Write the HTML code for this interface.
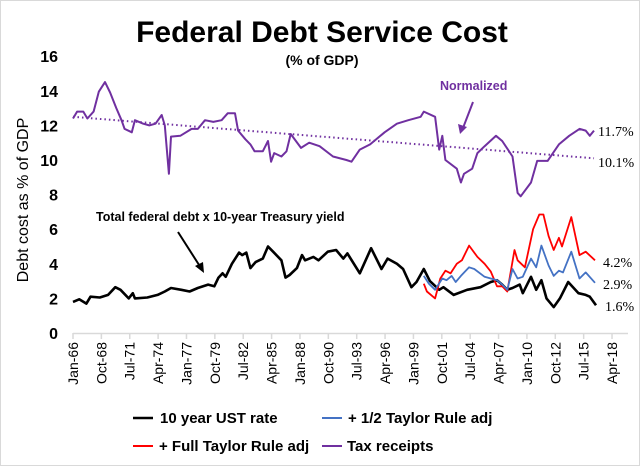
<!DOCTYPE html>
<html><head><meta charset="utf-8"><style>
body{margin:0;background:#fff}
svg{display:block;font-family:"Liberation Sans",sans-serif}
</style></head><body>
<svg id="c" width="640" height="466" viewBox="0 0 640 466">
<rect x="0.5" y="0.5" width="639" height="465" fill="#fff" stroke="#d9d9d9"/>
<text x="322" y="42" text-anchor="middle" font-size="30" font-weight="bold">Federal Debt Service Cost</text>
<text x="322" y="65" text-anchor="middle" font-size="14" font-weight="bold">(% of GDP)</text>
<text transform="translate(28,200) rotate(-90)" text-anchor="middle" font-size="16">Debt cost as % of GDP</text>
<g id="axes"></g>
<g id="series"></g>
<text x="96" y="221" font-size="12.5" font-weight="bold">Total federal debt x 10-year Treasury yield</text>
<line x1="178" y1="232" x2="201" y2="268" stroke="#000" stroke-width="2"/>
<polygon points="204,273 195,266 203,262" fill="#000"/>
<text x="440" y="90" font-size="12.5" font-weight="bold" fill="#7030a0">Normalized</text>
<line x1="473" y1="102" x2="463" y2="128" stroke="#7030a0" stroke-width="2"/>
<polygon points="460,134 458,124 467,127" fill="#7030a0"/>
<g font-family="Liberation Serif,serif" font-size="14">
<text x="598" y="136">11.7%</text>
<text x="598" y="167">10.1%</text>
<text x="603" y="267">4.2%</text>
<text x="603" y="289">2.9%</text>
<text x="605" y="311">1.6%</text>
</g>
<g font-size="15" font-weight="bold">
<line x1="133" y1="418" x2="153" y2="418" stroke="#000" stroke-width="2.5"/>
<text x="160" y="423">10 year UST rate</text>
<line x1="322" y1="418" x2="342" y2="418" stroke="#4472c4" stroke-width="2"/>
<text x="348" y="423">+ 1/2 Taylor Rule adj</text>
<line x1="133" y1="446" x2="153" y2="446" stroke="#ff0000" stroke-width="2"/>
<text x="159" y="451">+ Full Taylor Rule adj</text>
<line x1="322" y1="446" x2="342" y2="446" stroke="#7030a0" stroke-width="2"/>
<text x="347" y="451">Tax receipts</text>
</g>
</svg>
<script>
const yTicks=[0,2,4,6,8,10,12,14,16];
const xTickLabels=["Jan-66","Oct-68","Jul-71","Apr-74","Jan-77","Oct-79","Jul-82","Apr-85","Jan-88","Oct-90","Jul-93","Apr-96","Jan-99","Oct-01","Jul-04","Apr-07","Jan-10","Oct-12","Jul-15","Apr-18"];
const taxYears=[1966,1966.4,1967,1967.4,1968,1968.5,1969.1,1969.6,1970.2,1970.7,1971,1971.7,1972,1972.8,1973.4,1974,1974.6,1974.9,1975.3,1975.5,1976.4,1977.5,1978.1,1978.8,1979.6,1980.4,1981,1981.7,1982,1982.7,1983.2,1983.6,1984.4,1984.9,1985.2,1985.5,1986.2,1986.7,1987.1,1988.1,1988.9,1989.9,1991.2,1992.5,1993,1993.8,1994.8,1996.2,1997.4,1998.5,1999.7,2000,2001.1,2001.5,2001.8,2002.1,2003.2,2003.6,2003.9,2004.7,2005.2,2005.9,2007,2007.6,2008.6,2009.1,2009.4,2010.4,2011,2012,2013.1,2014.1,2015.1,2015.7,2016.1,2016.5];
const taxValues=[12.4,12.8,12.8,12.4,12.8,13.95,14.5,13.9,13.0,12.3,11.8,11.6,12.3,12.1,12.0,12.1,12.6,12.0,9.2,11.35,11.4,11.8,11.8,12.3,12.2,12.3,12.7,12.7,11.7,11.2,10.9,10.5,10.5,11.1,9.9,10.4,10.2,10.5,11.5,10.7,11.0,10.8,10.2,10.0,9.9,10.6,10.9,11.6,12.1,12.3,12.5,12.8,12.5,10.6,11.4,10.0,9.5,8.7,9.2,9.5,10.4,10.8,11.4,11.1,10.2,8.1,7.9,8.7,9.95,9.95,10.9,11.4,11.8,11.7,11.4,11.7];
const trendYears=[1966,2016.5];
const trendValues=[12.5,10.1];
const ustYears=[1966,1966.6,1967.3,1967.7,1968.6,1969.4,1970.1,1970.6,1971.4,1971.8,1972,1973.2,1974.2,1974.9,1975.5,1976.5,1977.3,1978.1,1979.1,1979.7,1980.1,1980.5,1980.8,1981.4,1982.1,1982.4,1982.8,1983.2,1983.7,1984.4,1984.9,1985.4,1986.2,1986.6,1987,1987.7,1988.2,1988.5,1989.3,1989.8,1990.7,1991.5,1992.2,1992.6,1993.8,1994.9,1995.9,1996.5,1997.4,1998,1998.8,1999.3,2000,2000.6,2001.5,2001.9,2002.9,2004.2,2005.5,2006.5,2007.1,2007.6,2008.1,2008.6,2009.3,2009.6,2010.4,2010.9,2011.4,2011.9,2012.6,2013.2,2014,2015,2015.7,2016.1,2016.7];
const ustValues=[1.8,1.95,1.7,2.1,2.05,2.2,2.65,2.5,2.0,2.3,2.0,2.05,2.2,2.4,2.6,2.5,2.4,2.6,2.8,2.7,3.2,3.45,3.25,4.0,4.65,4.5,4.65,3.75,4.1,4.3,5.0,4.7,4.2,3.2,3.35,3.75,4.5,4.2,4.4,4.2,4.7,4.8,4.3,4.6,3.45,4.9,3.7,4.3,4.0,3.7,2.65,2.95,3.7,3.0,2.5,2.65,2.2,2.5,2.65,2.95,3.05,2.8,2.5,2.6,2.8,2.3,3.25,2.5,3.05,2.0,1.5,2.0,2.95,2.3,2.2,2.1,1.6];
const halfYears=[2000,2000.5,2001.1,2001.8,2002.2,2002.7,2003.1,2003.6,2004.4,2004.9,2005.9,2006.5,2007.1,2007.6,2008.1,2008.6,2009.1,2009.6,2010.4,2010.9,2011.4,2012.1,2012.6,2013.1,2013.5,2014.3,2015.1,2015.7,2016.6];
const halfValues=[3.3,2.85,2.5,3.15,3.05,3.3,2.95,3.3,3.8,3.7,3.25,3.15,3.05,2.8,2.5,3.7,3.15,3.25,4.3,3.8,5.05,3.9,3.3,3.6,3.5,4.7,3.15,3.5,2.9];
const fullYears=[2000,2000.3,2001.1,2001.6,2002.1,2002.6,2003.2,2003.7,2004.4,2005.2,2005.9,2006.5,2007.1,2007.6,2008.1,2008.8,2009.1,2009.8,2010.6,2011.2,2011.6,2012.1,2012.6,2013.1,2013.4,2014.3,2015.1,2015.7,2016.6];
const fullValues=[2.85,2.4,2.0,3.15,3.6,3.45,4.0,4.2,5.05,4.4,4.0,3.55,2.7,2.7,2.4,4.8,4.2,3.8,6.0,6.85,6.85,5.6,4.8,5.5,5.0,6.7,4.5,4.7,4.2];

const NS="http://www.w3.org/2000/svg";
const x=t=>73+(t-1966)*28.37/2.75;
const y=v=>333-v*17.3;
const axes=document.getElementById('axes'),ser=document.getElementById('series');
function mk(tag,attrs,parent){const e=document.createElementNS(NS,tag);for(const k in attrs)e.setAttribute(k,attrs[k]);parent.appendChild(e);return e;}
yTicks.forEach(v=>{
  const t=mk('text',{x:58,y:y(v)+6,'text-anchor':'end','font-size':16,'font-weight':'bold'},axes);
  
  
  t.textContent=v;
});
const ax=mk('line',{x1:73,y1:333.5,x2:628,y2:333.5,stroke:'#d9d9d9','stroke-width':1.5},axes);


xTickLabels.forEach((lab,i)=>{
  const t0=1966+i*2.75, px=x(t0);
  const tk=mk('line',{x1:px,y1:333,x2:px,y2:339,stroke:'#d9d9d9','stroke-width':1.5},axes);
  
  
  const t=mk('text',{transform:`translate(${px+5},342) rotate(-90)`,'text-anchor':'end','font-size':14},axes);
  
  
  t.textContent=lab;
});
function line(xs,vs,color,w,name,dash){
  const d=xs.map((t,i)=>(i?'L':'M')+x(t).toFixed(1)+','+y(vs[i]).toFixed(1)).join('');
  const p=mk('path',{d:d,fill:'none',stroke:color,'stroke-width':w,'stroke-linejoin':'round'},ser);
  if(dash)p.setAttribute('stroke-dasharray',dash);
  
  
}
line(trendYears,trendValues,'#7030a0',2,'tax-trend-line','1.5 3');
line(taxYears,taxValues,'#7030a0',2,'tax-receipts-line');
line(ustYears,ustValues,'#000',2.6,'ust-rate-line');
line(fullYears,fullValues,'#ff0000',1.8,'full-taylor-line');
line(halfYears,halfValues,'#4472c4',1.8,'half-taylor-line');
</script>
</body></html>
